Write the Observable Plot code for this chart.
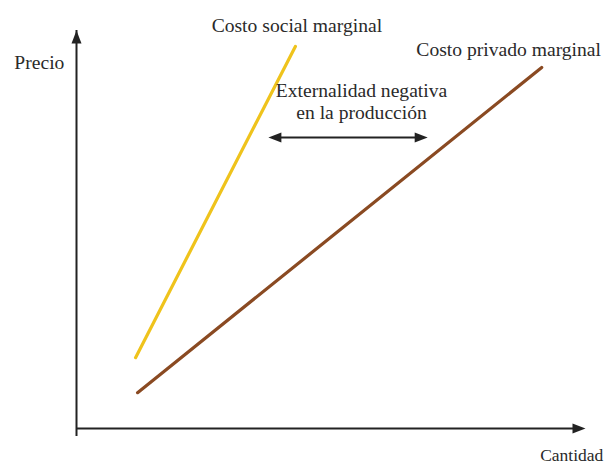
<!DOCTYPE html>
<html>
<head>
<meta charset="utf-8">
<script src="https://cdn.jsdelivr.net/npm/d3@7"></script>
<script src="https://cdn.jsdelivr.net/npm/@observablehq/plot@0.6"></script>
<style>
  html, body { margin: 0; padding: 0; background: #fff; }
  #chart svg { display: block; }
</style>
</head>
<body>
<div id="chart"></div>
<script>
// Axis extent (abstract units)
const axisMax = 10;

// Curves (Cantidad, Precio endpoints)
const socialQ = [1.16, 4.3];
const socialP = [1.78, 9.6];
const privateQ = [1.2, 9.14];
const privateP = [0.9, 9.07];

// Externality arrow (quantity range, price level)
const externalityQ = [3.77, 6.9];
const externalityP = 7.31;

// Labels
const labelText = ["Costo social marginal", "Costo privado marginal", "Externalidad negativa", "en la producción", "Precio"];
const labelQ = [4.33, 8.49, 5.6, 5.6, -0.73];
const labelP = [10.13, 9.52, 8.49, 7.94, 9.2];
const axisLabelText = ["Cantidad"];
const axisLabelQ = [9.73];
const axisLabelP = [-0.68];

const social = socialQ.map((q, i) => ({q, p: socialP[i]}));
const priv = privateQ.map((q, i) => ({q, p: privateP[i]}));
const labels = labelText.map((t, i) => ({t, q: labelQ[i], p: labelP[i]}));
const axisLabels = axisLabelText.map((t, i) => ({t, q: axisLabelQ[i], p: axisLabelP[i]}));

const triangle = {
  draw(context, l, r) {
    context.moveTo(0, -l);
    context.lineTo(r, 0);
    context.lineTo(-r, 0);
    context.closePath();
  }
};

const ink = "#222";
const font = "Liberation Serif";

const chart = Plot.plot({
  width: 605,
  height: 466,
  marginLeft: 76,
  marginRight: 20,
  marginTop: 30,
  marginBottom: 38,
  x: {domain: [0, axisMax], axis: null},
  y: {domain: [0, axisMax], axis: null},
  marks: [
    // axes
    Plot.ruleX([0], {y1: 0, y2: axisMax, stroke: ink, strokeWidth: 2, insetTop: 8}),
    Plot.ruleY([0], {x1: 0, x2: axisMax, stroke: ink, strokeWidth: 2, insetRight: 8}),
    Plot.vector([{q: 0, p: axisMax}], {x: "q", y: "p", rotate: 0, length: 13, r: 5, anchor: "end", shape: triangle, fill: ink, stroke: "none"}),
    Plot.vector([{q: axisMax, p: 0}], {x: "q", y: "p", rotate: 90, length: 13, r: 5, anchor: "end", shape: triangle, fill: ink, stroke: "none"}),
    // curves
    Plot.line(social, {x: "q", y: "p", stroke: "#efc31c", strokeWidth: 3.2}),
    Plot.line(priv, {x: "q", y: "p", stroke: "#8a4a22", strokeWidth: 3.2}),
    // externality double arrow
    Plot.ruleY([externalityP], {x1: externalityQ[0], x2: externalityQ[1], stroke: ink, strokeWidth: 2, insetLeft: 8, insetRight: 8}),
    Plot.vector([{q: externalityQ[0], p: externalityP}], {x: "q", y: "p", rotate: -90, length: 13, r: 5, anchor: "end", shape: triangle, fill: ink, stroke: "none"}),
    Plot.vector([{q: externalityQ[1], p: externalityP}], {x: "q", y: "p", rotate: 90, length: 13, r: 5, anchor: "end", shape: triangle, fill: ink, stroke: "none"}),
    // labels
    Plot.text(labels, {x: "q", y: "p", text: "t", fontFamily: font, fontSize: 19.6, fill: "#2a2a2a", textAnchor: "middle"}),
    Plot.text(axisLabels, {x: "q", y: "p", text: "t", fontFamily: font, fontSize: 17.5, fill: "#2a2a2a", textAnchor: "middle"})
  ]
});

document.getElementById("chart").appendChild(chart);
</script>
</body>
</html>
